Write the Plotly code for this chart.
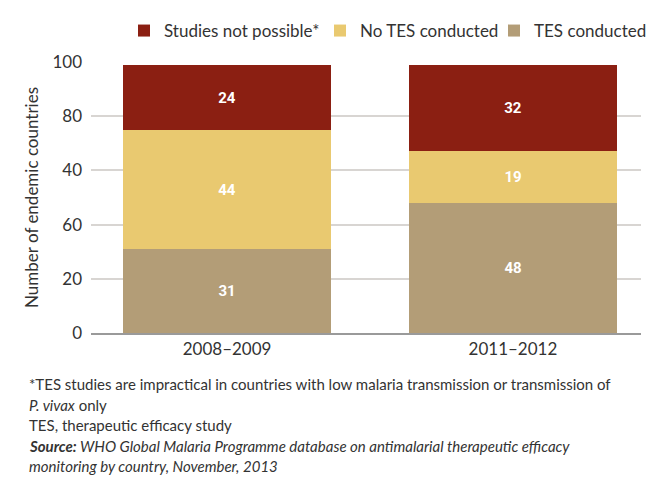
import plotly.graph_objects as go

# Survey periods and country counts per status
periods = ["2008\u20132009", "2011\u20132012"]
tes_conducted = [31, 48]
no_tes_conducted = [44, 19]
studies_not_possible = [24, 32]

# Y-axis tick positions and the labels printed at them
y_tick_vals = [0, 20, 40, 60, 80, 100]
y_tick_text = ["0", "20", "60", "40", "80", "100"]

footnotes = [
    "*TES studies are impractical in countries with low malaria transmission or transmission of",
    "<i>P. vivax</i> only",
    "TES, therapeutic efficacy study",
    "<b><i>Source:</i></b><i> WHO Global Malaria Programme database on antimalarial therapeutic efficacy</i>",
    "<i>monitoring by country, November, 2013</i>",
]

FONT = "Lato"
TEXT_COLOR = "#333333"
PLOT_L, PLOT_W = 91, 550

# name, values, colour, legend id, legend left edge (px)
series = [
    ("TES conducted", tes_conducted, "#B39D77", "legend3", 494),
    ("No TES conducted", no_tes_conducted, "#E9C970", "legend2", 320),
    ("Studies not possible*", studies_not_possible, "#8B1F12", "legend", 124),
]

fig = go.Figure()
legend_layout = {}
for name, vals, color, leg, left_px in series:
    fig.add_trace(go.Bar(
        x=periods, y=vals, name=name, legend=leg, showlegend=True,
        marker=dict(color=color, line=dict(width=0)),
        text=[str(v) for v in vals],
        textposition="inside", insidetextanchor="middle",
        textfont=dict(family="Roboto", size=15, color="white", weight="bold"),
        width=0.727,
    ))
    legend_layout[leg] = dict(
        orientation="h",
        x=(left_px - PLOT_L) / PLOT_W, xanchor="left",
        y=1 + 31 / 271, yanchor="middle",
        font=dict(family=FONT, size=17, color=TEXT_COLOR),
        itemwidth=30, bgcolor="rgba(0,0,0,0)",
    )

# Footnote block under the chart
y0 = 384
for i, line in enumerate(footnotes):
    fig.add_annotation(
        text=line, xref="paper", yref="paper",
        x=(27 - PLOT_L) / PLOT_W, xanchor="left",
        y=1 - (y0 + i * 20.5 - 62) / 271, yanchor="middle",
        showarrow=False, align="left",
        font=dict(family=FONT, size=15, color=TEXT_COLOR),
    )

fig.update_layout(
    width=649, height=478,
    margin=dict(l=91, r=8, t=62, b=145, autoexpand=False),
    showlegend=True,
    barmode="stack",
    paper_bgcolor="white", plot_bgcolor="white",
    font=dict(family=FONT, color=TEXT_COLOR, size=17),
    xaxis=dict(
        range=[-0.476, 1.448],
        showgrid=False, showline=True, linecolor="#9a9a9a", linewidth=1.5,
        tickfont=dict(family=FONT, size=17, color=TEXT_COLOR),
        ticks="",
    ),
    yaxis=dict(
        range=[0, 100],
        tickvals=y_tick_vals, ticktext=y_tick_text,
        showgrid=True, gridcolor="#d8d5d2", gridwidth=1.5,
        zeroline=False, ticks="",
        ticklabelstandoff=8,
        tickfont=dict(family=FONT, size=17, color=TEXT_COLOR),
        title=dict(text="Number of endemic countries", standoff=9,
                   font=dict(family=FONT, size=17, color=TEXT_COLOR)),
    ),
    bargap=0,
    **legend_layout,
)

fig.write_html("out.html")
